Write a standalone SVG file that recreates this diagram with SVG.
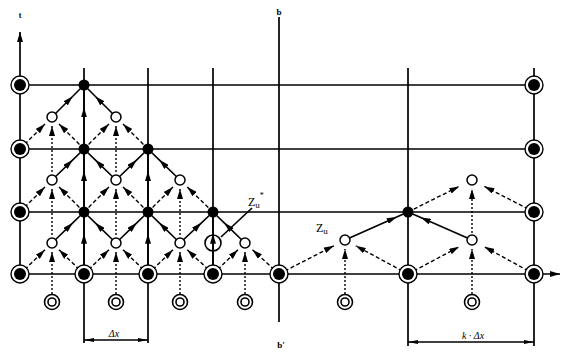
<svg xmlns="http://www.w3.org/2000/svg" width="566" height="352" viewBox="0 0 566 352">
<style>
.ln{stroke:#000;stroke-width:1.7;fill:none}
.sol{stroke:#000;stroke-width:1.6;fill:none;marker-mid:url(#ah)}
.dsh{stroke:#000;stroke-width:1.4;fill:none;stroke-dasharray:4 2.5;marker-end:url(#ah)}
.dot{stroke:#000;stroke-width:1.4;fill:none;stroke-dasharray:2 2;marker-end:url(#ah)}
.ro{fill:#fff;stroke:#000;stroke-width:1.4}
.ri{fill:#000}
.fd{fill:#000}
.oc{fill:#fff;stroke:#000;stroke-width:1.5}
.br{fill:#fff;stroke:#000;stroke-width:1.6}
.bri{fill:none;stroke:#000;stroke-width:1.6}
.lbl{font-family:"Liberation Serif",serif;fill:#000}
</style>
<defs>
<marker id="ah" viewBox="0 0 10 6" refX="10" refY="3" markerWidth="10" markerHeight="6" markerUnits="userSpaceOnUse" orient="auto"><path d="M0,0 L10,3 L0,6 z" fill="#000"/></marker>
<marker id="dm" viewBox="0 0 10 4" refX="10" refY="2" markerWidth="10" markerHeight="4" markerUnits="userSpaceOnUse" orient="auto-start-reverse"><path d="M0,0 L10,2 L0,4 z" fill="#000"/></marker>
</defs>
<rect width="566" height="352" fill="#fff"/>
<g id="grid">
<path class="ln" d="M20,85 H534 M20,149 H534 M20,212 H534"/>
<path class="ln" d="M84,68 V274 M148,68 V274 M213,68 V274 M408,68 V274 M534,68 V274"/>
<path class="ln" d="M279,17 V322"/>
<path class="ln" d="M20,274 V32" marker-end="url(#ah)"/>
<path class="ln" d="M20,274 H560" marker-end="url(#ah)"/>
</g>
<g id="dimensions">
<path class="ln" d="M84,283 V343 M148,283 V343 M408,283 V346 M534,283 V346" stroke-width="1.3"/>
<path class="ln" d="M84,340 H148" marker-start="url(#dm)" marker-end="url(#dm)"/>
<path class="ln" d="M408,342 H534" marker-start="url(#dm)" marker-end="url(#dm)"/>
</g>
<g id="connectors">
<path class="dsh" d="M20,274 L44.96,249.8"/>
<path class="dsh" d="M84,274 L59.04,249.8"/>
<path class="dsh" d="M84,274 L108.96,249.8"/>
<path class="dsh" d="M148,274 L123.04,249.8"/>
<path class="dsh" d="M148,274 L172.96,249.8"/>
<path class="dsh" d="M213,274 L187.26,249.8"/>
<path class="dsh" d="M213,274 L237.96,249.8"/>
<path class="dsh" d="M279,274 L252.48,249.8"/>
<path class="dsh" d="M20,212 L44.96,187.04"/>
<path class="dsh" d="M84,212 L59.04,187.04"/>
<path class="dsh" d="M84,212 L108.96,187.04"/>
<path class="dsh" d="M148,212 L123.04,187.04"/>
<path class="dsh" d="M148,212 L172.96,187.04"/>
<path class="dsh" d="M213,212 L187.26,187.04"/>
<path class="dsh" d="M20,149 L44.96,124.04"/>
<path class="dsh" d="M84,149 L59.04,124.04"/>
<path class="dsh" d="M84,149 L108.96,124.04"/>
<path class="dsh" d="M148,149 L123.04,124.04"/>
<path class="sol" d="M52,243 L72.8,222.85 L84,212"/>
<path class="sol" d="M116,243 L95.2,222.85 L84,212"/>
<path class="sol" d="M116,243 L136.8,222.85 L148,212"/>
<path class="sol" d="M180,243 L159.2,222.85 L148,212"/>
<path class="sol" d="M180,243 L201.45,222.85 L213,212"/>
<path class="sol" d="M245,243 L224.2,222.85 L213,212"/>
<path class="sol" d="M52,180 L72.8,159.85 L84,149"/>
<path class="sol" d="M116,180 L95.2,159.85 L84,149"/>
<path class="sol" d="M116,180 L136.8,159.85 L148,149"/>
<path class="sol" d="M180,180 L159.2,159.85 L148,149"/>
<path class="sol" d="M52,117 L72.8,96.2 L84,85"/>
<path class="sol" d="M116,117 L95.2,96.2 L84,85"/>
<path class="sol" d="M84,274 L84,233.7 L84,212"/>
<path class="sol" d="M148,274 L148,233.7 L148,212"/>
<path class="sol" d="M213,274 L213,233.7 L213,212"/>
<path class="sol" d="M84,212 L84,171.05 L84,149"/>
<path class="sol" d="M148,212 L148,171.05 L148,149"/>
<path class="sol" d="M84,149 L84,107.4 L84,85"/>
<path class="dot" d="M52,294 L52,252"/>
<path class="dot" d="M116,294 L116,252"/>
<path class="dot" d="M180,294 L180,252"/>
<path class="dot" d="M245,294 L245,252"/>
<path class="dot" d="M52,235 L52,189"/>
<path class="dot" d="M116,235 L116,189"/>
<path class="dot" d="M180,235 L180,189"/>
<path class="dot" d="M52,172 L52,126"/>
<path class="dot" d="M116,172 L116,126"/>
<path class="dsh" d="M279,274 L333.8,245.8"/>
<path class="dsh" d="M408,274 L355.7,245.8"/>
<path class="dot" d="M345,294 L345,249"/>
<path class="sol" d="M345,240 L396.7,217 L408,212"/>
<path class="dsh" d="M408,274 L459.2,246.8"/>
<path class="dsh" d="M534,274 L484.4,246.8"/>
<path class="dot" d="M472,294 L472,249"/>
<path class="sol" d="M472,240 L420.8,217.6 L408,212"/>
<path class="dsh" d="M408,212 L459.2,186.4"/>
<path class="dsh" d="M534,212 L484.4,186.4"/>
<path class="dot" d="M472,233 L472,189"/>
<path class="ln" d="M252,208 L221,237"/>
</g>
<g id="boundary-nodes">
<g id="b-20-85"><circle class="ro" cx="20" cy="85" r="9"/><circle class="ri" cx="20" cy="85" r="6"/></g>
<g id="b-20-149"><circle class="ro" cx="20" cy="149" r="9"/><circle class="ri" cx="20" cy="149" r="6"/></g>
<g id="b-20-212"><circle class="ro" cx="20" cy="212" r="9"/><circle class="ri" cx="20" cy="212" r="6"/></g>
<g id="b-20-274"><circle class="ro" cx="20" cy="274" r="9"/><circle class="ri" cx="20" cy="274" r="6"/></g>
<g id="b-534-85"><circle class="ro" cx="534" cy="85" r="9"/><circle class="ri" cx="534" cy="85" r="6"/></g>
<g id="b-534-149"><circle class="ro" cx="534" cy="149" r="9"/><circle class="ri" cx="534" cy="149" r="6"/></g>
<g id="b-534-212"><circle class="ro" cx="534" cy="212" r="9"/><circle class="ri" cx="534" cy="212" r="6"/></g>
<g id="b-534-274"><circle class="ro" cx="534" cy="274" r="9"/><circle class="ri" cx="534" cy="274" r="6"/></g>
<g id="b-84-274"><circle class="ro" cx="84" cy="274" r="9"/><circle class="ri" cx="84" cy="274" r="6"/></g>
<g id="b-148-274"><circle class="ro" cx="148" cy="274" r="9"/><circle class="ri" cx="148" cy="274" r="6"/></g>
<g id="b-213-274"><circle class="ro" cx="213" cy="274" r="9"/><circle class="ri" cx="213" cy="274" r="6"/></g>
<g id="b-279-274"><circle class="ro" cx="279" cy="274" r="9"/><circle class="ri" cx="279" cy="274" r="6"/></g>
<g id="b-408-274"><circle class="ro" cx="408" cy="274" r="9"/><circle class="ri" cx="408" cy="274" r="6"/></g>
</g>
<g id="filled-nodes">
<g id="f-84-85"><circle class="fd" cx="84" cy="85" r="5.5"/></g>
<g id="f-84-149"><circle class="fd" cx="84" cy="149" r="5.5"/></g>
<g id="f-148-149"><circle class="fd" cx="148" cy="149" r="5.5"/></g>
<g id="f-84-212"><circle class="fd" cx="84" cy="212" r="5.5"/></g>
<g id="f-148-212"><circle class="fd" cx="148" cy="212" r="5.5"/></g>
<g id="f-213-212"><circle class="fd" cx="213" cy="212" r="5.5"/></g>
<g id="f-408-212"><circle class="fd" cx="408" cy="212" r="5.5"/></g>
</g>
<g id="half-nodes">
<g id="h-52-117"><circle class="oc" cx="52" cy="117" r="5"/></g>
<g id="h-116-117"><circle class="oc" cx="116" cy="117" r="5"/></g>
<g id="h-52-180"><circle class="oc" cx="52" cy="180" r="5"/></g>
<g id="h-116-180"><circle class="oc" cx="116" cy="180" r="5"/></g>
<g id="h-180-180"><circle class="oc" cx="180" cy="180" r="5"/></g>
<g id="h-52-243"><circle class="oc" cx="52" cy="243" r="5"/></g>
<g id="h-116-243"><circle class="oc" cx="116" cy="243" r="5"/></g>
<g id="h-180-243"><circle class="oc" cx="180" cy="243" r="5"/></g>
<g id="h-245-243"><circle class="oc" cx="245" cy="243" r="5"/></g>
<g id="h-213-243"><circle class="bri" cx="213" cy="243" r="8"/></g>
<g id="h-345-240"><circle class="oc" cx="345" cy="240" r="5"/></g>
<g id="h-472-240"><circle class="oc" cx="472" cy="240" r="5"/></g>
<g id="h-472-180"><circle class="oc" cx="472" cy="180" r="5"/></g>
</g>
<g id="source-nodes">
<g id="s-52"><circle class="br" cx="52" cy="302" r="7.5"/><circle class="bri" cx="52" cy="302" r="4"/></g>
<g id="s-116"><circle class="br" cx="116" cy="302" r="7.5"/><circle class="bri" cx="116" cy="302" r="4"/></g>
<g id="s-180"><circle class="br" cx="180" cy="302" r="7.5"/><circle class="bri" cx="180" cy="302" r="4"/></g>
<g id="s-245"><circle class="br" cx="245" cy="302" r="7.5"/><circle class="bri" cx="245" cy="302" r="4"/></g>
<g id="s-345"><circle class="br" cx="345" cy="302" r="7.5"/><circle class="bri" cx="345" cy="302" r="4"/></g>
<g id="s-472"><circle class="br" cx="472" cy="302" r="7.5"/><circle class="bri" cx="472" cy="302" r="4"/></g>
</g>
<g id="labels">
<text class="lbl" x="20" y="18" font-size="8" text-anchor="middle" font-weight="bold">t</text>
<text class="lbl" x="279" y="15" font-size="9" text-anchor="middle" font-weight="bold">b</text>
<text class="lbl" x="281" y="348" font-size="9" text-anchor="middle" font-weight="bold">b'</text>
<text class="lbl" x="114" y="337" font-size="10" font-style="italic" text-anchor="middle">Δx</text>
<text class="lbl" x="473" y="339" font-size="10" font-style="italic" text-anchor="middle">k · Δx</text>
<text class="lbl" x="316" y="232" font-size="12">Z<tspan font-size="9" dy="2">u</tspan></text>
<text class="lbl" x="248" y="206" font-size="12">Z<tspan font-size="9" dy="2">u</tspan><tspan font-size="8" dy="-10">*</tspan></text>
</g>
</svg>
